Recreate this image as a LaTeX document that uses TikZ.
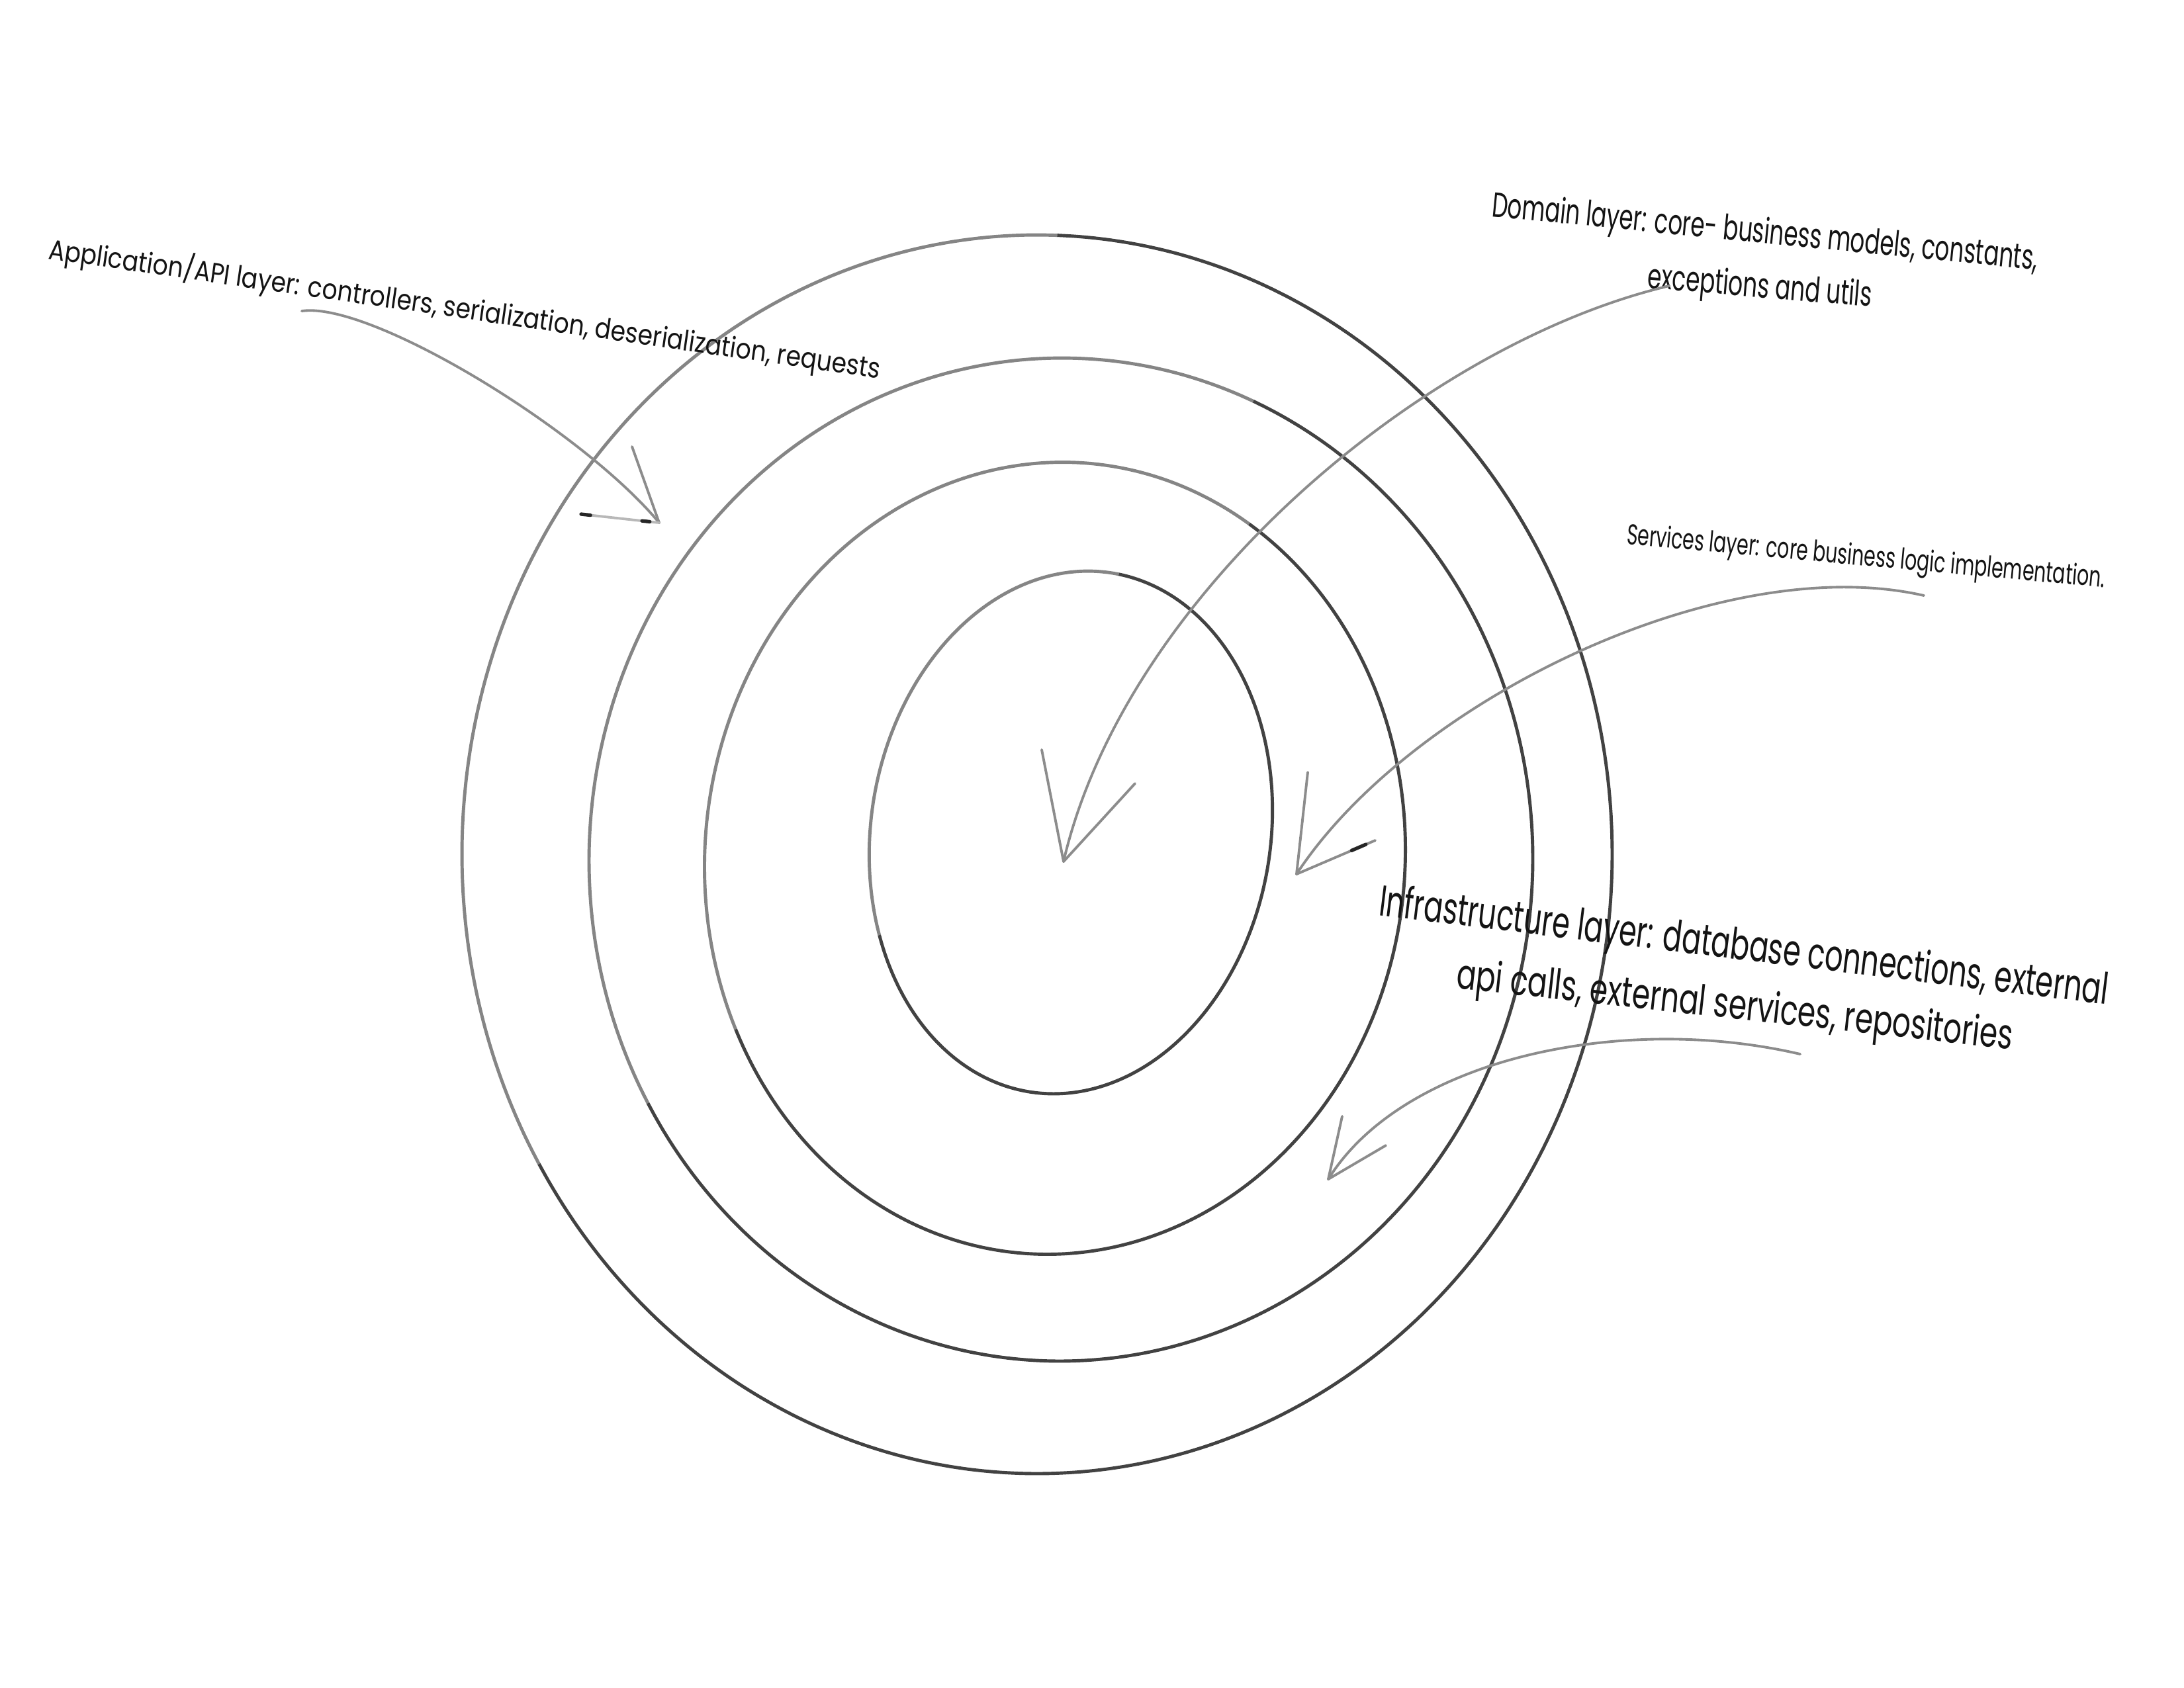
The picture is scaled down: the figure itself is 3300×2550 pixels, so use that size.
\documentclass[tikz,border=0pt]{standalone}
\usepackage{fontspec}
\usepackage{graphicx}
\usetikzlibrary{calc}
\newfontfamily\handfont{Poppins}
\begin{document}
\begin{tikzpicture}[x=0.01cm,y=-0.01cm]
\tikzset{
  ringlight/.style={draw=black!48, line width=1.4pt},
  ringdark/.style={draw=black!74, line width=1.4pt},
  pencil/.style={draw=black!45, line width=1.1pt, line cap=round},
  pencilfaint/.style={draw=black!28, line width=1.1pt, line cap=round},
  pencilspot/.style={draw=black!85, line width=1.5pt, line cap=round},
  lbl/.style={anchor=base west, inner sep=0pt, outer sep=0pt, text=black!92, font=\handfont},
}
\useasboundingbox (0,0) rectangle (3300,2550);
\fill[white] (0,0) rectangle (3300,2550);

% ---- rings (cx, cy, a, b, psi) ----
% outer: (1567,1291) a=869 b=936 psi=0
\draw[ringlight] plot[domain=150:272, samples=80, smooth, variable=\t]
  ({1567 + 869*cos(\t)}, {1291 + 936*sin(\t)});
\draw[ringdark] plot[domain=-88:150, samples=140, smooth, variable=\t]
  ({1567 + 869*cos(\t)}, {1291 + 936*sin(\t)});
% second: (1603,1299) a=713 b=758 psi=1
\draw[ringlight] plot[domain=150:293, samples=80, smooth, variable=\t]
  ({1603 + 713*cos(\t)*cos(1) - 758*sin(\t)*sin(1)}, {1299 + 713*cos(\t)*sin(1) + 758*sin(\t)*cos(1)});
\draw[ringdark] plot[domain=-67:150, samples=140, smooth, variable=\t]
  ({1603 + 713*cos(\t)*cos(1) - 758*sin(\t)*sin(1)}, {1299 + 713*cos(\t)*sin(1) + 758*sin(\t)*cos(1)});
% third: (1594,1297) a=529 b=599 psi=5
\draw[ringlight] plot[domain=150:298, samples=80, smooth, variable=\t]
  ({1594 + 529*cos(\t)*cos(5) - 599*sin(\t)*sin(5)}, {1297 + 529*cos(\t)*sin(5) + 599*sin(\t)*cos(5)});
\draw[ringdark] plot[domain=-62:150, samples=140, smooth, variable=\t]
  ({1594 + 529*cos(\t)*cos(5) - 599*sin(\t)*sin(5)}, {1297 + 529*cos(\t)*sin(5) + 599*sin(\t)*cos(5)});
% inner: (1618,1258) a=302 b=397 psi=9
\draw[ringlight] plot[domain=150:272, samples=80, smooth, variable=\t]
  ({1618 + 302*cos(\t)*cos(9) - 397*sin(\t)*sin(9)}, {1258 + 302*cos(\t)*sin(9) + 397*sin(\t)*cos(9)});
\draw[ringdark] plot[domain=-88:150, samples=140, smooth, variable=\t]
  ({1618 + 302*cos(\t)*cos(9) - 397*sin(\t)*sin(9)}, {1258 + 302*cos(\t)*sin(9) + 397*sin(\t)*cos(9)});

% ---- labels ----
\node[lbl, rotate=-8.2] (appL) at (72,391)
  {\resizebox{12.68cm}{0.40cm}{Application/API layer: controllers, serialization, deserialization, requests}};
\node[lbl, rotate=-5.6] (domL1) at (2253,327)
  {\resizebox{8.28cm}{0.40cm}{Domain layer: core- business models, constants,}};
\node[lbl, rotate=-4.8] (domL2) at (2488,435)
  {\resizebox{3.40cm}{0.40cm}{exceptions and utils}};
\node[lbl, rotate=-5.2] (srvL) at (2457,822)
  {\resizebox{7.25cm}{0.33cm}{Services layer: core business logic implementation.}};
\node[lbl, rotate=-7.0] (infL1) at (2082,1383)
  {\resizebox{11.08cm}{0.50cm}{Infrastructure layer: database connections, external}};
\node[lbl, rotate=-6.3] (infL2) at (2199,1493)
  {\resizebox{8.45cm}{0.48cm}{api calls, external services, repositories}};

% ---- arrow coordinates ----
\coordinate (appS) at (456,470);
\coordinate (appT) at (996,790);
\coordinate (appB1) at (955,675);
\coordinate (appB2) at (878,777);
\coordinate (domS) at (2522,432);
\coordinate (domT) at (1607,1302);
\coordinate (domB1) at (1574,1133);
\coordinate (domB2) at (1715,1184);
\coordinate (srvS) at (2907,900);
\coordinate (srvT) at (1959,1321);
\coordinate (srvB1) at (1976,1167);
\coordinate (srvB2) at (2078,1270);
\coordinate (infS) at (2720,1593);
\coordinate (infT) at (2007,1782);
\coordinate (infB1) at (2028,1687);
\coordinate (infB2) at (2094,1731);

% ---- arrows ----
\draw[pencil] (appS) .. controls (560,455) and (880,650) .. (appT);
\draw[pencil] (appT) -- (appB1);
\draw[pencilfaint] (appT) -- (appB2);
\draw[pencilspot] (appB2) -- ($(appB2)!0.12!(appT)$);
\draw[pencilspot] ($(appB2)!0.78!(appT)$) -- ($(appB2)!0.88!(appT)$);

\draw[pencil] (domS) .. controls (2150,520) and (1700,900) .. (domT);
\draw[pencil] (domT) -- (domB1);
\draw[pencil] (domT) -- (domB2);

\draw[pencil] (srvS) .. controls (2600,830) and (2130,1060) .. (srvT);
\draw[pencil] (srvT) -- (srvB1);
\draw[pencil] (srvT) -- (srvB2);
\draw[pencilspot] ($(srvB2)!0.12!(srvT)$) -- ($(srvB2)!0.3!(srvT)$);

\draw[pencil] (infS) .. controls (2450,1530) and (2120,1600) .. (infT);
\draw[pencil] (infT) -- (infB1);
\draw[pencil] (infT) -- (infB2);
\end{tikzpicture}
\end{document}
